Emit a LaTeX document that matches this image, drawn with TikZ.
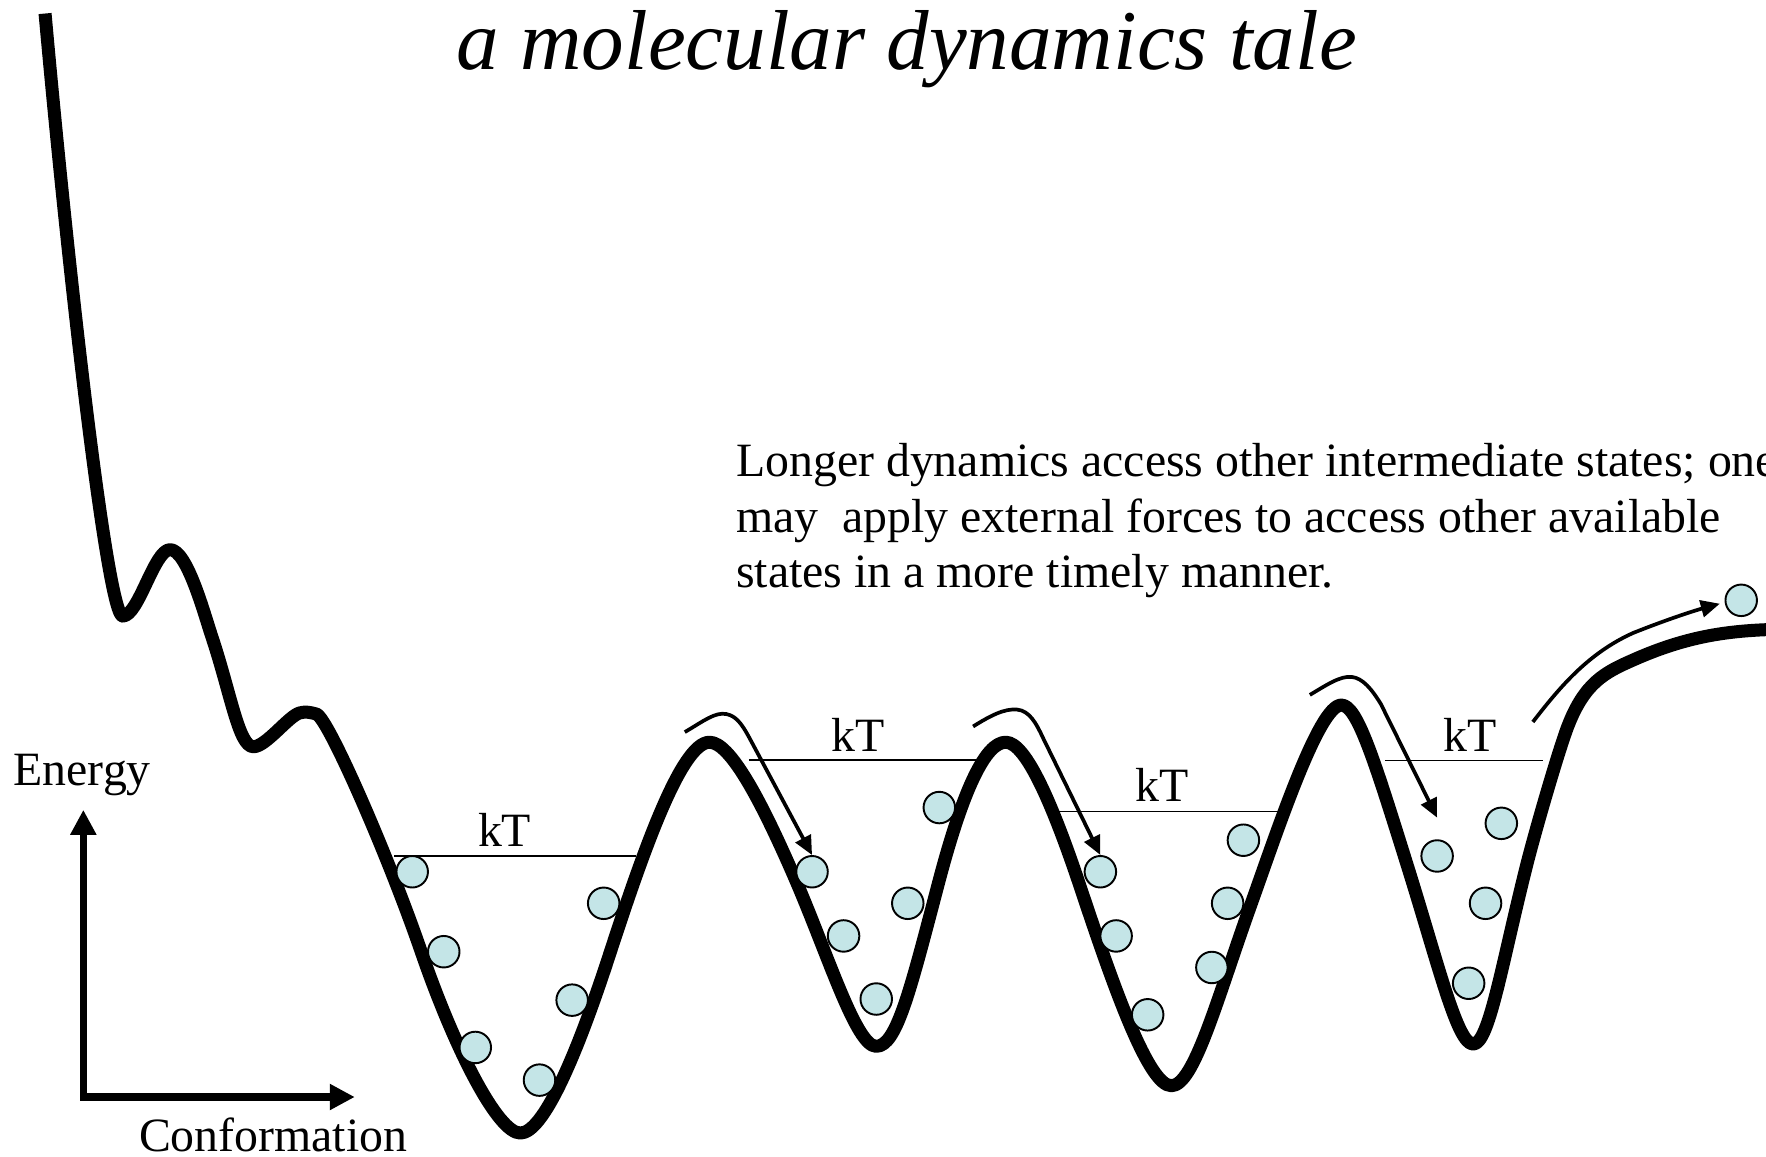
\documentclass[tikz,border=0pt]{standalone}
\usepackage{fontspec}
\setmainfont{Liberation Serif}
\usetikzlibrary{arrows.meta}
\definecolor{ballfill}{RGB}{196,229,231}
\begin{document}
\begin{tikzpicture}[x=0.011263cm, y=-0.011263cm,
  land/.style={line width=3.7pt, line join=round, line cap=butt},
  ktline/.style={line width=0.45pt},
  ball/.style={circle, draw, line width=0.55pt, fill=ballfill, minimum size=0.315cm, inner sep=0pt},
  hop/.style={line width=1.05pt, -{Triangle[length=5.4pt,width=4.8pt]}},
  axisline/.style={line width=2.1pt, {Triangle[length=7.1pt,width=7pt]}-{Triangle[length=7.1pt,width=7pt]}},
  lbl/.style={font=\fontsize{13.6}{16}\selectfont, inner sep=0pt, anchor=base},
  ttl/.style={font=\fontsize{24.2}{29}\selectfont\itshape, inner sep=0pt, anchor=base},
]
\clip (0,0) rectangle (1568,1027);
\fill[white] (0,0) rectangle (1568,1027);

% title
\node[ttl] (title) at (805,62) {a molecular dynamics tale};

% paragraph
\node[lbl, anchor=base west] (p1) at (653,423) {Longer dynamics access other intermediate states; one};
\node[lbl, anchor=base west] (p2) at (653,473) {may\ \ apply external forces to access other available};
\node[lbl, anchor=base west] (p3) at (653,522) {states in a more timely manner.};

% energy landscape
\draw[land] (40,12)
  .. controls (62.5,262) and (96,547) .. (109,547)
  .. controls (123,547) and (137,488) .. (151,488)
  .. controls (166,488) and (181,544) .. (188,565)
  .. controls (205,616) and (212,663) .. (225,663)
  .. controls (236,663) and (256,636) .. (266,633)
  .. controls (271,631.5) and (276,632.5) .. (281,634)
  .. controls (291,637) and (344,758) .. (374,845)
  .. controls (404,932) and (442,1006) .. (462,1006)
  .. controls (482,1006) and (511,940) .. (541,848)
  .. controls (571,756) and (605,659) .. (630,659)
  .. controls (648,659) and (675,709) .. (705,778)
  .. controls (735,847) and (760,929) .. (778,929)
  .. controls (796,929) and (808,880) .. (833,785)
  .. controls (855,701) and (875,659) .. (893,659)
  .. controls (911,659) and (935,715) .. (960,790)
  .. controls (990,880) and (1020,964) .. (1040,964)
  .. controls (1060,964) and (1080,889) .. (1110,805)
  .. controls (1135,735) and (1171,626) .. (1191,626)
  .. controls (1205,626) and (1220,674) .. (1250,770)
  .. controls (1278,859.6) and (1294,927) .. (1308,927)
  .. controls (1322,927) and (1333,858) .. (1355,770)
  .. controls (1363,738) and (1384,665.8) .. (1392,645)
  .. controls (1407,606) and (1425,597) .. (1450,586)
  .. controls (1495,566) and (1530,560.5) .. (1570,559);

% kT levels
\draw[ktline] (350,760) -- (565,760);
\draw[ktline] (665,675) -- (869,675);
\draw[ktline] (939,720.5) -- (1137,720.5);
\draw[ktline] (1230,675.4) -- (1370,675.4);
\node[lbl] (kt1) at (448,752) {kT};
\node[lbl] (kt2) at (762,667) {kT};
\node[lbl] (kt3) at (1032,712) {kT};
\node[lbl] (kt4) at (1305,667) {kT};

% balls
\node[ball] (b1) at (366,774) {};
\node[ball] (b2) at (394,845) {};
\node[ball] (b3) at (422,930) {};
\node[ball] (b4) at (479,959) {};
\node[ball] (b5) at (508,888) {};
\node[ball] (b6) at (536,802) {};
\node[ball] (b7) at (721,774) {};
\node[ball] (b8) at (749,831) {};
\node[ball] (b9) at (778,887) {};
\node[ball] (b10) at (806,802) {};
\node[ball] (b11) at (834,717) {};
\node[ball] (b12) at (977,774) {};
\node[ball] (b13) at (991,831) {};
\node[ball] (b14) at (1019,901) {};
\node[ball] (b15) at (1076,859) {};
\node[ball] (b16) at (1090,802) {};
\node[ball] (b17) at (1104,746) {};
\node[ball] (b18) at (1276,760) {};
\node[ball] (b19) at (1304,873) {};
\node[ball] (b20) at (1319,802) {};
\node[ball] (b21) at (1333,731) {};
\node[ball] (b22) at (1546,533) {};

% hopping arrows
\coordinate (h1s) at (608,650);
\coordinate (h2s) at (864,645);
\coordinate (h3s) at (1163,617);
\coordinate (h3e) at (1276,726);
\coordinate (h4s) at (1361,641);
\coordinate (h4e) at (1527,536);
\draw[hop] (h1s) .. controls (625,640) and (635,632) .. (645,634)
  .. controls (655,636) and (660,645) .. (668,660) -- (b7.north);
\draw[hop] (h2s) .. controls (880,635) and (892,629) .. (903,630)
  .. controls (914,631) and (920,642) .. (926,655) -- (b12.north);
\draw[hop] (h3s) .. controls (1178,608) and (1190,600) .. (1200,601)
  .. controls (1210,602) and (1218,612) .. (1226,625) -- (h3e);
\draw[hop] (h4s) .. controls (1385,610) and (1410,580) .. (1450,562)
  .. controls (1480,550) and (1505,542) .. (h4e);

% axes
\coordinate (ax0) at (74,974);
\coordinate (axy) at (74,719);
\coordinate (axx) at (315,974);
\draw[axisline] (axy) -- (ax0) -- (axx);
\node[lbl] (energy) at (73,697) {Energy};
\node[lbl] (conf) at (242.5,1022.5) {Conformation};
\end{tikzpicture}
\end{document}
